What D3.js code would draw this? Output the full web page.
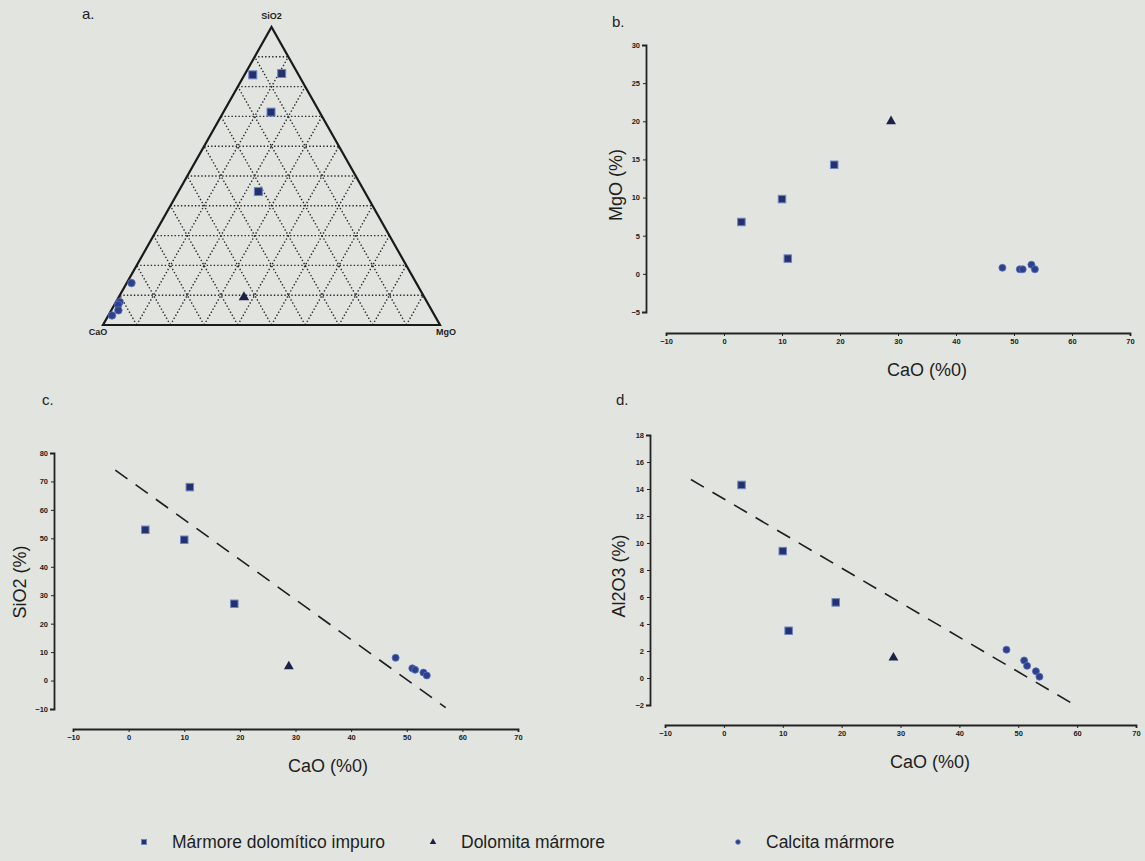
<!DOCTYPE html>
<html>
<head>
<meta charset="utf-8">
<script src="https://cdn.jsdelivr.net/npm/d3@7"></script>
<style>
  body { margin: 0; background: #e2e4df; }
  svg { display: block; font-family: "Liberation Sans", Arial, sans-serif; }
  .axis path, .axis line { stroke: #222; }
  .axis text { fill: #222; font-size: 7.5px; font-weight: bold; }
  .title { font-size: 18px; fill: #1e1e1e; }
  .panel { font-size: 15px; fill: #1e1e1e; }
</style>
</head>
<body>
<div id="chart"></div>
<script>
// sample groups
const groups = ['Mármore dolomítico impuro', 'Dolomita mármore', 'Calcita mármore'];

// Mármore dolomítico impuro
const impCaO = [3, 10, 11, 19];
const impMgO = [6.8, 9.8, 2.0, 14.3];
const impSiO2 = [53, 49.5, 68, 27];
const impAl2O3 = [14.3, 9.4, 3.5, 5.6];

// Dolomita mármore
const dolCaO = [28.8];
const dolMgO = [20];
const dolSiO2 = [5];
const dolAl2O3 = [1.5];

// Calcita mármore
const calCaO = [48, 51, 51.5, 53, 53.6];
const calMgO = [0.8, 0.6, 0.6, 1.2, 0.6];
const calSiO2 = [8, 4.3, 3.8, 2.8, 1.8];
const calAl2O3 = [2.1, 1.3, 0.9, 0.5, 0.1];

// dashed trend lines (CaO, value) end points
const trendSiO2 = [[-2.4, 74], [57, -9.5]];
const trendAl2O3 = [[-5.6, 14.7], [59.2, -1.9]];

// tick labels
const caoTicks = [-10, 0, 10, 20, 30, 40, 50, 60, 70];
const mgoTicks = [-5, 0, 5, 10, 15, 20, 25, 30];
const sio2Ticks = [-10, 0, 10, 20, 30, 40, 50, 60, 70, 80];
const al2o3Ticks = [-2, 0, 2, 4, 6, 8, 10, 12, 14, 16, 18];
const gridSteps = [0.1, 0.2, 0.3, 0.4, 0.5, 0.6, 0.7, 0.8, 0.9];

const W = 1145, H = 861;
const svg = d3.select('#chart').append('svg').attr('width', W).attr('height', H);
svg.append('rect').attr('width', W).attr('height', H).attr('fill', '#e2e4df');

const navy = '#23316f', halo = '#7184c4';

function rows(cao, other, g) {
  return cao.map((c, i) => ({ x: c, y: other[i], g: g }));
}

// sz: square side
function drawMarkers(sel, data, xs, ys, sz) {
  const g = sel.append('g');
  data.forEach(d => {
    const px = xs(d.x), py = ys(d.y);
    if (d.g === 0) {
      g.append('rect').attr('x', px - sz / 2).attr('y', py - sz / 2).attr('width', sz).attr('height', sz)
        .attr('fill', navy).attr('stroke', halo).attr('stroke-width', 1);
    } else if (d.g === 1) {
      g.append('path').attr('d', d3.symbol().type(d3.symbolTriangle).size(sz * sz * 0.75)())
        .attr('transform', `translate(${px},${py})`).attr('fill', '#1c2247');
    } else {
      g.append('circle').attr('cx', px).attr('cy', py).attr('r', sz * 0.47)
        .attr('fill', '#2c408e').attr('stroke', '#5b6fb5').attr('stroke-width', 0.8);
    }
  });
}

function scatter(opt) {
  const x = d3.scaleLinear().domain([-10, 70]).range(opt.xr);
  const y = d3.scaleLinear().domain(opt.yd).range(opt.yr);
  const g = svg.append('g');

  g.append('g').attr('class', 'axis')
    .attr('transform', `translate(0,${opt.xAxisY})`)
    .call(d3.axisBottom(x).tickValues(caoTicks).tickSize(3).tickSizeOuter(3).tickPadding(3));
  g.append('g').attr('class', 'axis')
    .attr('transform', `translate(${opt.yAxisX},0)`)
    .call(d3.axisLeft(y).tickValues(opt.yTicks).tickSize(3).tickSizeOuter(4).tickPadding(3));
  g.selectAll('.axis path').attr('stroke-width', 1.8);

  g.append('text').attr('class', 'title').attr('text-anchor', 'middle')
    .attr('x', opt.xTitleX).attr('y', opt.xAxisY + 43).text('CaO (%0)');
  g.append('text').attr('class', 'title').attr('text-anchor', 'middle')
    .attr('transform', `translate(${opt.yTitleX},${opt.yTitleY}) rotate(-90)`).text(opt.yTitle);
  g.append('text').attr('class', 'panel').attr('x', opt.lab[0]).attr('y', opt.lab[1]).text(opt.label);

  if (opt.trend) {
    g.append('path').datum(opt.trend)
      .attr('d', d3.line().x(d => x(d[0])).y(d => y(d[1])))
      .attr('fill', 'none').attr('stroke', '#1e1e1e').attr('stroke-width', 1.6)
      .attr('stroke-dasharray', '15,10');
  }
  drawMarkers(g, opt.data, x, y, 7.5);
}

// b. MgO vs CaO
scatter({
  xr: [666, 1130], xAxisY: 333, yd: [-5, 30], yr: [312, 45], yAxisX: 646,
  yTicks: mgoTicks, yTitle: 'MgO (%)', yTitleX: 622, yTitleY: 185, xTitleX: 927,
  label: 'b.', lab: [612, 27],
  data: [...rows(impCaO, impMgO, 0), ...rows(dolCaO, dolMgO, 1), ...rows(calCaO, calMgO, 2)]
});

// c. SiO2 vs CaO
scatter({
  xr: [73, 518], xAxisY: 729, yd: [-10, 80], yr: [709, 453], yAxisX: 54,
  yTicks: sio2Ticks, yTitle: 'SiO2 (%)', yTitleX: 26, yTitleY: 582, xTitleX: 328,
  label: 'c.', lab: [42, 405], trend: trendSiO2,
  data: [...rows(impCaO, impSiO2, 0), ...rows(dolCaO, dolSiO2, 1), ...rows(calCaO, calSiO2, 2)]
});

// d. Al2O3 vs CaO
scatter({
  xr: [665, 1136], xAxisY: 725, yd: [-2, 18], yr: [705, 435], yAxisX: 650,
  yTicks: al2o3Ticks, yTitle: 'Al2O3 (%)', yTitleX: 625, yTitleY: 576, xTitleX: 930,
  label: 'd.', lab: [616, 405], trend: trendAl2O3,
  data: [...rows(impCaO, impAl2O3, 0), ...rows(dolCaO, dolAl2O3, 1), ...rows(calCaO, calAl2O3, 2)]
});

// a. ternary SiO2 - CaO - MgO
const tx = d3.scaleLinear().domain([0, 1]).range([103, 440]);
const ty = d3.scaleLinear().domain([0, 1]).range([325, 27]);
const proj = (ca, mg, si) => [tx(mg + si / 2), ty(si)];
const tern = svg.append('g');
const tline = d3.line();

gridSteps.forEach(f => {
  [[proj(1 - f, 0, f), proj(0, 1 - f, f)],
   [proj(f, 1 - f, 0), proj(f, 0, 1 - f)],
   [proj(1 - f, f, 0), proj(0, f, 1 - f)]].forEach(seg => {
    tern.append('path').attr('d', tline(seg)).attr('stroke', '#2a2a2a')
      .attr('stroke-width', 1.4).attr('stroke-dasharray', '1.4,2.1').attr('fill', 'none');
  });
});
tern.append('path').attr('d', tline([proj(1, 0, 0), proj(0, 1, 0), proj(0, 0, 1)]) + 'Z')
  .attr('fill', 'none').attr('stroke', '#1a1a1a').attr('stroke-width', 2.2);

const tlab = [['SiO2', proj(0, 0, 1), 0, -8], ['CaO', proj(1, 0, 0), -5, 10], ['MgO', proj(0, 1, 0), 6, 10]];
tlab.forEach(t => {
  tern.append('text').attr('x', t[1][0] + t[2]).attr('y', t[1][1] + t[3]).attr('text-anchor', 'middle')
    .attr('font-size', 9).attr('font-weight', 'bold').attr('fill', '#1e1e1e').text(t[0]);
});
tern.append('text').attr('class', 'panel').attr('x', 82).attr('y', 19).text('a.');

function ternRows(ca, mg, si, g) {
  return ca.map((c, i) => {
    const s = c + mg[i] + si[i];
    return { ca: c / s, mg: mg[i] / s, si: si[i] / s, g: g };
  });
}
const ternData = [...ternRows(impCaO, impMgO, impSiO2, 0), ...ternRows(dolCaO, dolMgO, dolSiO2, 1),
  ...ternRows(calCaO, calMgO, calSiO2, 2)];
drawMarkers(tern, ternData.map(d => ({ x: d.mg + d.si / 2, y: d.si, g: d.g })), tx, ty, 8);

// legend
const legX = [144, 433, 738];
const leg = svg.append('g');
groups.forEach((name, i) => {
  drawMarkers(leg, [{ x: legX[i], y: 842, g: i }], v => v, v => v, 5);
  leg.append('text').attr('x', legX[i] + 28).attr('y', 848).attr('font-size', 17.5)
    .attr('fill', '#1e1e1e').text(name);
});
</script>
</body>
</html>
